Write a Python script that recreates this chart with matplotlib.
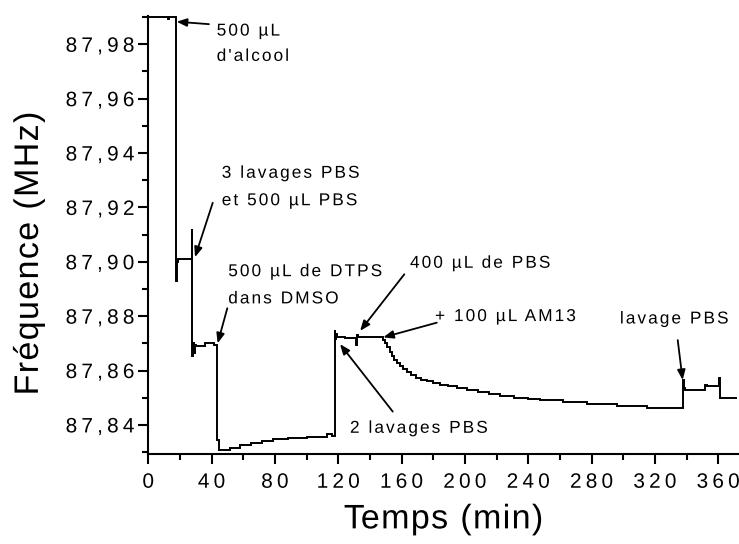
import numpy as np
import matplotlib
matplotlib.use("Agg")
import matplotlib.pyplot as plt
from matplotlib.patheffects import AbstractPathEffect
from matplotlib.path import Path
from matplotlib.ticker import MultipleLocator, FuncFormatter

plt.rcParams['font.family'] = ['Liberation Sans', 'DejaVu Sans']

# Frequency trace (time in min, frequency in MHz), drawn as a staircase
time_min = [0, 12.2, 12.8, 17.7, 17.9, 18.6, 27.6, 27.8, 28.3, 28.8, 29.4, 30.2,
            36.0, 41.3, 43.3, 44.5, 51.8, 58.0, 65.0, 72.0, 79.0, 88.0, 100.0,
            112.8, 116.0, 117.7, 118.0, 118.4, 119.0, 124.4, 131.0, 131.6, 132.2,
            146.5, 148.0, 149.5, 151.0, 152.5, 154.0, 155.5, 157.0, 159.0, 161.0,
            163.5, 166.0, 169.0, 172.5, 176.0, 180.0, 184.5, 189.5, 195.0, 201.0,
            208.0, 215.0, 222.0, 231.0, 240.0, 247.5, 262.0, 277.0, 296.0, 315.0,
            337.8, 338.3, 339.0, 351.8, 353.0, 360.6, 361.2, 371.0]
freq_mhz = [87.9899, 87.9893, 87.9899, 87.8930, 87.8998, 87.9010, 87.9120, 87.8655,
            87.8700, 87.8665, 87.8695, 87.8692, 87.8700, 87.8695, 87.8345, 87.8306,
            87.8315, 87.8325, 87.8333, 87.8340, 87.8347, 87.8352, 87.8357, 87.8367,
            87.8360, 87.8750, 87.8715, 87.8735, 87.8725, 87.8720, 87.8695, 87.8730,
            87.8723, 87.8722, 87.8712, 87.8700, 87.8686, 87.8668, 87.8652, 87.8640,
            87.8628, 87.8615, 87.8604, 87.8594, 87.8584, 87.8574, 87.8566, 87.8560,
            87.8554, 87.8548, 87.8542, 87.8536, 87.8528, 87.8520, 87.8513, 87.8506,
            87.8500, 87.8495, 87.8490, 87.8484, 87.8478, 87.8470, 87.8462, 87.8566,
            87.8535, 87.8529, 87.8548, 87.8542, 87.8572, 87.8499, 87.8499]

# Event labels: text lines, left edge / baseline of each line, arrow tail and tip
note_lines = [["500 µL", "d'alcool"],
              ["3 lavages PBS", "et 500 µL PBS"],
              ["500 µL de DTPS", "dans DMSO"],
              ["400 µL de PBS"],
              ["+ 100 µL AM13"],
              ["2 lavages PBS"],
              ["lavage PBS"]]
note_x = [43.2, 46.4, 50.5, 165.3, 181.1, 127.4, 297.9]
note_y = [[87.9832, 87.9739], [87.9309, 87.9208], [87.8947, 87.8847],
          [87.8978], [87.8782], [87.8371], [87.8773]]
arrow_tail = [(38.3, 87.9874), (40.7, 87.9217), (49.9, 87.8829), (161.7, 87.8954),
              (182.2, 87.8776), (154.4, 87.8449), (334.4, 87.8712)]
arrow_tip = [(17.9, 87.9883), (29.5, 87.9017), (43.8, 87.8700), (133.8, 87.8746),
             (148.4, 87.8722), (121.1, 87.8697), (337.5, 87.8565)]


class Tracking(AbstractPathEffect):
    """Draw a text line with extra space between glyphs (amount in em)."""

    def __init__(self, em=0.1, align="left"):
        super().__init__()
        self._step = em * 100.0  # text paths are built at 100 units per em
        self._align = align

    def draw_path(self, renderer, gc, tpath, affine, rgbFace=None):
        codes = tpath.codes
        if codes is None or len(tpath.vertices) == 0:
            renderer.draw_path(gc, tpath, affine, rgbFace)
            return
        verts = np.array(tpath.vertices, dtype=float)
        starts = np.flatnonzero(codes == Path.MOVETO)
        if len(starts) == 0:
            renderer.draw_path(gc, tpath, affine, rgbFace)
            return
        ends = np.append(starts[1:], len(verts))
        real = codes != Path.CLOSEPOLY
        contours = []
        for s, e in zip(starts, ends):
            xs = verts[s:e, 0][real[s:e]]
            if len(xs) == 0:
                continue
            contours.append((xs.min(), xs.max(), s, e))
        contours.sort()
        shifts = np.zeros(len(verts))
        slot = 0
        gx1 = None
        for x0, x1, s, e in contours:
            if gx1 is not None and x0 > gx1:
                slot += 1
                if x0 - gx1 > 22:
                    slot += 1
                gx1 = x1
            else:
                gx1 = x1 if gx1 is None else max(gx1, x1)
            shifts[s:e] = slot * self._step
        total = slot * self._step
        shifts -= {"left": 0.0, "center": total / 2, "right": total}[self._align]
        verts[:, 0] += shifts
        renderer.draw_path(gc, Path(verts, codes), affine, rgbFace)


W, H = 739, 544
fig = plt.figure(figsize=(W / 100, H / 100), dpi=100)
ax = fig.add_axes([148.3 / W, 90 / H, (W - 148.3) / W, 438 / H])

ax.plot(time_min, freq_mhz, drawstyle="steps-post", color="black", lw=1.4,
        solid_joinstyle="miter")

ax.set_xlim(0, 373.1)
ax.set_ylim(87.8293, 87.9904)

for side in ("top", "right"):
    ax.spines[side].set_visible(False)
for side in ("left", "bottom"):
    ax.spines[side].set_linewidth(1.5)

ax.xaxis.set_major_locator(MultipleLocator(40))
ax.xaxis.set_minor_locator(MultipleLocator(20))
ax.yaxis.set_major_locator(MultipleLocator(0.02))
ax.yaxis.set_minor_locator(MultipleLocator(0.01))
ax.yaxis.set_major_formatter(FuncFormatter(lambda v, p: f"{v:.2f}".replace(".", ",")))

ax.tick_params(which="major", direction="out", length=7, width=1.5, labelsize=15)
ax.tick_params(which="minor", direction="out", length=4, width=1.5)
ax.tick_params(axis="x", which="major", pad=6.5)
ax.tick_params(axis="y", which="major", pad=3)

for tick in ax.xaxis.get_major_ticks():
    tick.label1.set_path_effects([Tracking(0.2, "center")])
for tick in ax.yaxis.get_major_ticks():
    tick.label1.set_path_effects([Tracking(0.2, "right")])

ax.set_xlabel("Temps (min)", fontsize=24.5,
              path_effects=[Tracking(0.04, "center")])
ax.set_ylabel("Fréquence (MHz)", fontsize=24.5,
              path_effects=[Tracking(0.04, "center")])
ax.xaxis.set_label_coords(0.5, -0.115)
ax.yaxis.set_label_coords(-0.175, 0.458)

for lines, x0, ys, tail, tip in zip(note_lines, note_x, note_y, arrow_tail, arrow_tip):
    for line, y0 in zip(lines, ys):
        ax.text(x0, y0, line, fontsize=12.4, ha="left", va="baseline",
                path_effects=[Tracking(0.12, "left")])
    ax.annotate("", xy=tip, xytext=tail,
                arrowprops=dict(arrowstyle="-|>,head_length=0.5,head_width=0.2",
                                mutation_scale=12, color="black", lw=1.3,
                                shrinkA=0, shrinkB=0))

fig.savefig("out.png", dpi=100)
